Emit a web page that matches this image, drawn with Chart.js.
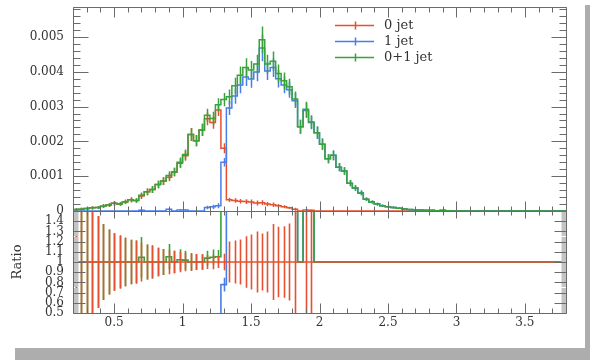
<!DOCTYPE html>
<html>
<head>
<meta charset="utf-8">
<script src="https://cdn.jsdelivr.net/npm/chart.js@4.4.1/dist/chart.umd.min.js"></script>
<style>
  html, body { margin: 0; padding: 0; background: #fff; }
  body { width: 590px; height: 360px; position: relative; overflow: hidden; }
  #wrap { position: absolute; left: 0; top: 0; width: 585px; height: 347px; }
  .shadow { position: absolute; background: #adadad; }
</style>
</head>
<body>
<div class="shadow" style="left:585px;top:5px;width:5px;height:355px"></div>
<div class="shadow" style="left:15px;top:348px;width:575px;height:12px"></div>
<div id="wrap"><canvas id="jetChart" width="585" height="347"></canvas></div>
<script>
// Lower bin edges, 0.04 wide
const binLow = [
  0.20, 0.24, 0.28, 0.32, 0.36, 0.40, 0.44, 0.48, 0.52, 0.56,
  0.60, 0.64, 0.68, 0.72, 0.76, 0.80, 0.84, 0.88, 0.92, 0.96,
  1.00, 1.04, 1.08, 1.12, 1.16, 1.20, 1.24, 1.28, 1.32, 1.36,
  1.40, 1.44, 1.48, 1.52, 1.56, 1.60, 1.64, 1.68, 1.72, 1.76,
  1.80, 1.84, 1.88, 1.92, 1.96, 2.00, 2.04, 2.08, 2.12, 2.16,
  2.20, 2.24, 2.28, 2.32, 2.36, 2.40, 2.44, 2.48, 2.52, 2.56,
  2.60, 2.64, 2.68, 2.72, 2.76, 2.80, 2.84, 2.88, 2.92, 2.96,
  3.00, 3.04, 3.08, 3.12, 3.16, 3.20, 3.24, 3.28, 3.32, 3.36,
  3.40, 3.44, 3.48, 3.52, 3.56, 3.60, 3.64, 3.68, 3.72, 3.76
];
const binWidth = 0.04;

// Bin contents in units of 1e-3, with their errors
const jet0 = [
  0.04, 0.05, 0.07, 0.09, 0.10, 0.14, 0.17, 0.22, 0.20, 0.26,
  0.32, 0.30, 0.43, 0.55, 0.62, 0.76, 0.86, 0.97, 1.12, 1.37,
  1.59, 2.20, 2.02, 2.33, 2.65, 2.54, 2.90, 1.80, 0.32, 0.30,
  0.28, 0.27, 0.26, 0.23, 0.24, 0.20, 0.18, 0.15, 0.12, 0.09,
  0.05, 0, 0.03, 0.02, 0, 0, 0, 0, 0, 0,
  0, 0, 0, 0, 0, 0, 0, 0, 0, 0,
  0, 0, 0, 0, 0, 0, 0, 0, 0, 0,
  0, 0, 0, 0, 0, 0, 0, 0, 0, 0,
  0, 0, 0, 0, 0, 0, 0, 0, 0, 0
];
const jet0Err = [
  0.036, 0.040, 0.045, 0.050, 0.045, 0.052, 0.054, 0.062, 0.052, 0.062,
  0.070, 0.063, 0.082, 0.094, 0.100, 0.106, 0.110, 0.116, 0.123, 0.137,
  0.143, 0.187, 0.160, 0.175, 0.185, 0.178, 0.174, 0.144, 0.064, 0.063,
  0.062, 0.068, 0.070, 0.069, 0.067, 0.060, 0.067, 0.052, 0.042, 0.034,
  0.040, 0, 0.027, 0.020, 0, 0, 0, 0, 0, 0,
  0, 0, 0, 0, 0, 0, 0, 0, 0, 0,
  0, 0, 0, 0, 0, 0, 0, 0, 0, 0,
  0, 0, 0, 0, 0, 0, 0, 0, 0, 0,
  0, 0, 0, 0, 0, 0, 0, 0, 0, 0
];
const jet1 = [
  0, 0, 0, 0, 0, 0, 0, 0, 0, 0,
  0, 0, 0.02, 0, 0, 0, 0, 0.05, 0, 0.03,
  0.03, 0, 0, 0, 0.10, 0.12, 0.15, 1.40, 2.96, 3.30,
  3.62, 3.85, 3.79, 3.99, 4.68, 4.02, 4.12, 3.80, 3.62, 3.48,
  3.17, 2.42, 2.89, 2.54, 2.25, 1.92, 1.50, 1.60, 1.26, 1.15,
  0.80, 0.66, 0.52, 0.34, 0.26, 0.20, 0.15, 0.12, 0.10, 0.08,
  0.06, 0.04, 0.03, 0.03, 0.02, 0.02, 0.01, 0.02, 0.01, 0,
  0, 0, 0, 0, 0, 0, 0, 0, 0, 0,
  0, 0, 0, 0, 0, 0, 0, 0, 0, 0
];
const jet1Err = [
  0, 0, 0, 0, 0, 0, 0, 0, 0, 0,
  0, 0, 0.02, 0, 0, 0, 0, 0.03, 0, 0.02,
  0.02, 0, 0, 0, 0.05, 0.06, 0.07, 0.12, 0.20, 0.22,
  0.24, 0.26, 0.25, 0.26, 0.38, 0.26, 0.27, 0.25, 0.24, 0.23,
  0.21, 0.20, 0.22, 0.19, 0.18, 0.16, 0.13, 0.14, 0.12, 0.11,
  0.09, 0.08, 0.07, 0.05, 0.045, 0.04, 0.035, 0.03, 0.03, 0.025,
  0.025, 0.02, 0.02, 0.02, 0.015, 0.015, 0.01, 0.015, 0.01, 0,
  0, 0, 0, 0, 0, 0, 0, 0, 0, 0,
  0, 0, 0, 0, 0, 0, 0, 0, 0, 0
];
const jet01 = [
  0.04, 0.05, 0.07, 0.09, 0.10, 0.14, 0.17, 0.22, 0.20, 0.26,
  0.32, 0.30, 0.45, 0.55, 0.62, 0.76, 0.86, 1.02, 1.12, 1.40,
  1.62, 2.20, 2.02, 2.33, 2.75, 2.66, 3.05, 3.20, 3.28, 3.60,
  3.90, 4.12, 4.05, 4.22, 4.92, 4.22, 4.30, 3.95, 3.74, 3.57,
  3.22, 2.42, 2.92, 2.56, 2.25, 1.92, 1.50, 1.60, 1.26, 1.15,
  0.80, 0.66, 0.52, 0.34, 0.26, 0.20, 0.15, 0.12, 0.10, 0.08,
  0.06, 0.04, 0.03, 0.03, 0.02, 0.02, 0.01, 0.02, 0.01, 0,
  0, 0, 0, 0, 0, 0, 0, 0, 0, 0,
  0, 0, 0, 0, 0, 0, 0, 0, 0, 0
];
const jet01Err = [
  0.036, 0.040, 0.045, 0.050, 0.045, 0.052, 0.054, 0.062, 0.052, 0.062,
  0.070, 0.063, 0.085, 0.094, 0.100, 0.106, 0.110, 0.120, 0.123, 0.140,
  0.145, 0.187, 0.160, 0.175, 0.190, 0.190, 0.190, 0.190, 0.210, 0.230,
  0.250, 0.270, 0.260, 0.270, 0.380, 0.270, 0.280, 0.260, 0.240, 0.230,
  0.210, 0.200, 0.220, 0.190, 0.180, 0.160, 0.130, 0.140, 0.120, 0.110,
  0.09, 0.08, 0.07, 0.05, 0.045, 0.04, 0.035, 0.03, 0.03, 0.025,
  0.025, 0.02, 0.02, 0.02, 0.015, 0.015, 0.01, 0.015, 0.01, 0,
  0, 0, 0, 0, 0, 0, 0, 0, 0, 0,
  0, 0, 0, 0, 0, 0, 0, 0, 0, 0
];

// Axis ticks and their labels
const xTicks = [0.5, 1, 1.5, 2, 2.5, 3, 3.5];
const xTickLabels = ['0.5', '1', '1.5', '2', '2.5', '3', '3.5'];
const mainTicks = [0, 1, 2, 3, 4, 5];
const mainTickLabels = ['0', '0.001', '0.002', '0.003', '0.004', '0.005'];
const ratioTicks = [0.5, 0.6, 0.7, 0.8, 0.9, 1, 1.1, 1.2, 1.3, 1.4];
const ratioTickLabels = ['0.5', '0.6', '0.7', '0.8', '0.9', '1', '1.1', '1.2', '1.3', '1.4'];

const seriesLabels = ['0 jet', '1 jet', '0+1 jet'];
const seriesColors = ['#e5502f', '#4a7de8', '#37a33a'];

const fontFamily = "'DejaVu Serif', serif";
const textColor = '#333';
const frameColor = '#6a6a6a';

const centres = binLow.map(lo => lo + binWidth / 2);

// step outline: one point per lower edge plus the closing edge
const steps = vals => binLow.map((lo, i) => ({ x: lo, y: vals[i] }))
  .concat([{ x: binLow[binLow.length - 1] + binWidth, y: vals[vals.length - 1] }]);

// ratios to the 0 jet sample (empty reference bins give 1)
const ratio = vals => vals.map((v, i) => jet0[i] > 0 ? v / jet0[i] : 1);
const ratioErr = errs => errs.map((e, i) => jet0[i] > 0 ? e / jet0[i] : 0);

function histo(vals, errs, color, axis, order, width) {
  return {
    data: steps(vals),
    values: vals,
    errors: errs,
    yAxisID: axis,
    order: order,
    borderColor: color,
    borderWidth: width,
    stepped: 'before',
    pointRadius: 0,
    fill: false
  };
}

// vertical error bars at the bin centres, drawn right after each histogram
const errorBars = {
  id: 'errorBars',
  afterDatasetDraw(chart, args) {
    const ds = chart.data.datasets[args.index];
    if (!ds.errors) return;
    const xs = args.meta.xScale, ys = args.meta.yScale;
    const ctx = chart.ctx;
    ctx.save();
    ctx.beginPath();
    ctx.rect(xs.left, ys.top, xs.right - xs.left, ys.bottom - ys.top);
    ctx.clip();
    ctx.strokeStyle = ds.borderColor;
    ctx.lineWidth = ds.borderWidth;
    ctx.beginPath();
    centres.forEach((c, i) => {
      const e = ds.errors[i];
      if (!e) return;
      const px = Math.round(xs.getPixelForValue(c)) + 0.5;
      ctx.moveTo(px, ys.getPixelForValue(ds.values[i] - e));
      ctx.lineTo(px, ys.getPixelForValue(ds.values[i] + e));
    });
    ctx.stroke();
    ctx.restore();
  }
};

// frames with inward ticks on all four sides of both panels
const panels = [
  { axis: 'y', top: [10, 5], bottom: [10, 5], major: 1, minor: 0.2, side: [15, 7], minorColor: '#6a6a6a' },
  { axis: 'yr', top: [7, 4], bottom: [10, 5], major: 0.1, minor: 0.01, side: [12, 5], minorColor: '#c4c4c4' }
];
const xMajor = 0.5, xMinor = 0.1;

const isMultiple = (v, step) => Math.abs(v / step - Math.round(v / step)) < 1e-6;

const frameTicks = {
  id: 'frameTicks',
  afterDatasetsDraw(chart) {
    const { ctx, scales } = chart;
    const x = scales.x;
    const L = Math.round(x.left) + 0.5, R = Math.round(x.right) + 0.5;
    ctx.save();
    ctx.lineWidth = 1;
    panels.forEach(p => {
      const s = scales[p.axis];
      const T = Math.round(s.top) + 0.5, B = Math.round(s.bottom) + 0.5;
      // light minor ticks on the sides go first
      ctx.strokeStyle = p.minorColor;
      ctx.beginPath();
      for (let k = 0; ; k++) {
        const v = +(s.min + k * p.minor).toFixed(6);
        if (v > s.max + 1e-9) break;
        if (isMultiple(v, p.major)) continue;
        const py = Math.round(s.getPixelForValue(v)) + 0.5;
        ctx.moveTo(L, py); ctx.lineTo(L + p.side[1], py);
        ctx.moveTo(R, py); ctx.lineTo(R - p.side[1], py);
      }
      ctx.stroke();

      ctx.strokeStyle = frameColor;
      ctx.beginPath();
      ctx.rect(L, T, R - L, B - T);
      for (let k = 0; ; k++) {
        const v = +(x.min + k * xMinor).toFixed(6);
        if (v > x.max + 1e-9) break;
        const major = isMultiple(v, xMajor);
        const px = Math.round(x.getPixelForValue(v)) + 0.5;
        ctx.moveTo(px, T); ctx.lineTo(px, T + (major ? p.top[0] : p.top[1]));
        ctx.moveTo(px, B); ctx.lineTo(px, B - (major ? p.bottom[0] : p.bottom[1]));
      }
      for (let k = 0; ; k++) {
        const v = +(s.min + k * p.major).toFixed(6);
        if (v > s.max + 1e-9) break;
        const py = Math.round(s.getPixelForValue(v)) + 0.5;
        ctx.moveTo(L, py); ctx.lineTo(L + p.side[0], py);
        ctx.moveTo(R, py); ctx.lineTo(R - p.side[0], py);
      }
      ctx.stroke();
    });
    ctx.restore();
  }
};

const legendBox = {
  id: 'legendBox',
  afterDraw(chart, args, opts) {
    const ctx = chart.ctx;
    ctx.save();
    ctx.font = '13px ' + fontFamily;
    ctx.textBaseline = 'middle';
    ctx.fillStyle = textColor;
    seriesLabels.forEach((label, k) => {
      const y = Math.round(opts.top + k * opts.rowHeight) + 0.5;
      const mid = Math.round(opts.left + opts.lineLength / 2) + 0.5;
      ctx.strokeStyle = seriesColors[k];
      ctx.lineWidth = 1.5;
      ctx.beginPath();
      ctx.moveTo(opts.left, y);
      ctx.lineTo(opts.left + opts.lineLength, y);
      ctx.moveTo(mid, y - 4);
      ctx.lineTo(mid, y + 4);
      ctx.stroke();
      ctx.fillText(label, opts.left + opts.lineLength + opts.gap, y);
    });
    ctx.restore();
  }
};

const tickFont = { family: fontFamily, size: 12 };

const yAxisBase = {
  type: 'linear',
  position: 'left',
  stack: 'panels',
  grid: { display: false, drawTicks: false },
  border: { display: false },
  afterFit: s => { s.width = 73; s.paddingTop = 0; s.paddingBottom = 0; }
};

new Chart(document.getElementById('jetChart'), {
  type: 'line',
  data: {
    datasets: [
      // main panel
      histo(jet01, jet01Err, seriesColors[2], 'y', 0, 1.5),
      histo(jet1, jet1Err, seriesColors[1], 'y', 1, 1.5),
      histo(jet0, jet0Err, seriesColors[0], 'y', 2, 1.5),
      // ratio panel
      histo(ratio(jet0), ratioErr(jet0Err), seriesColors[0], 'yr', 3, 1.6),
      histo(ratio(jet01), ratioErr(jet01Err), seriesColors[2], 'yr', 4, 1.6),
      histo(ratio(jet1), ratioErr(jet1Err), seriesColors[1], 'yr', 5, 1.6)
    ]
  },
  options: {
    responsive: false,
    animation: false,
    events: [],
    layout: { padding: { top: 7, right: 19, left: 0, bottom: 0 } },
    plugins: {
      legend: { display: false },
      tooltip: { enabled: false },
      legendBox: { left: 335, top: 25, rowHeight: 16, lineLength: 39, gap: 10 }
    },
    scales: {
      x: {
        type: 'linear',
        position: 'bottom',
        min: 0.2,
        max: 3.8,
        grid: { display: false, drawTicks: false },
        border: { display: false },
        ticks: {
          autoSkip: false, maxRotation: 0, padding: 3,
          font: tickFont, color: textColor,
          callback: (v, i) => xTickLabels[i]
        },
        afterBuildTicks: s => { s.ticks = xTicks.map(value => ({ value })); },
        afterFit: s => { s.height = 34; s.paddingLeft = 0; s.paddingRight = 0; }
      },
      y: Object.assign({}, yAxisBase, {
        weight: 2,
        stackWeight: 2,
        min: 0,
        max: 5.86,
        ticks: {
          autoSkip: false, padding: 9, font: tickFont, color: textColor,
          callback: (v, i) => mainTickLabels[i]
        },
        afterBuildTicks: s => { s.ticks = mainTicks.map(value => ({ value })); }
      }),
      yr: Object.assign({}, yAxisBase, {
        weight: 1,
        stackWeight: 1,
        min: 0.5,
        max: 1.5,
        title: {
          display: true, text: 'Ratio', color: textColor,
          font: { family: fontFamily, size: 13 }, padding: { top: 10, bottom: 0 }
        },
        ticks: {
          autoSkip: false, padding: 9, font: tickFont, color: textColor,
          callback: (v, i) => ratioTickLabels[i]
        },
        afterBuildTicks: s => { s.ticks = ratioTicks.map(value => ({ value })); }
      })
    }
  },
  plugins: [errorBars, frameTicks, legendBox]
});
</script>
</body>
</html>
